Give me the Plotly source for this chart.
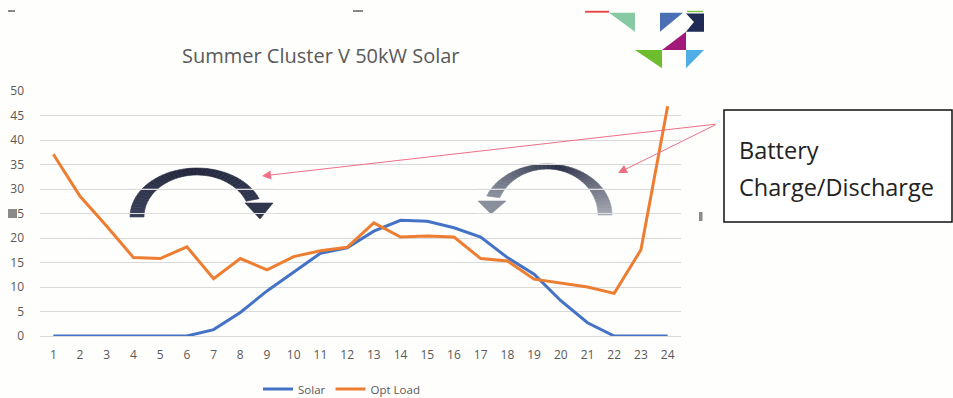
import numpy as np
import plotly.graph_objects as go

# ---- data -------------------------------------------------------------
hours = list(range(1, 25))
solar = [0, 0, 0, 0, 0, 0, 1.3, 4.8, 9.2, 13.0, 16.9, 18.0,
         21.4, 23.6, 23.4, 22.1, 20.2, 16.0, 12.6, 7.2, 2.7, 0, 0, 0]
opt_load = [37.1, 28.5, 22.4, 16.0, 15.8, 18.2, 11.7, 15.8, 13.5, 16.2, 17.4, 18.1,
            23.1, 20.2, 20.4, 20.2, 15.8, 15.3, 11.6, 10.8, 10.0, 8.7, 17.6, 46.9]
y_ticks = list(range(0, 51, 5))

W, H = 953, 398
L, R, T, B = 40, 272, 91, 62
PW, PH = W - L - R, H - T - B


def px(x):
    return (x - L) / PW


def py(y):
    return (H - B - y) / PH


def poly_path(pts):
    return "M " + " L ".join(f"{px(x):.5f},{py(y):.5f}" for x, y in pts) + " Z"


def mix(c1, c2, t):
    a = np.array([int(c1[i:i + 2], 16) for i in (1, 3, 5)], float)
    b = np.array([int(c2[i:i + 2], 16) for i in (1, 3, 5)], float)
    c = a + (b - a) * t
    return "#" + "".join(f"{int(round(v)):02x}" for v in c)


fig = go.Figure()
fig.add_trace(go.Scatter(x=hours, y=solar, name="Solar", mode="lines",
                         line=dict(color="#4472C4", width=3)))
fig.add_trace(go.Scatter(x=hours, y=opt_load, name="Opt Load", mode="lines",
                         line=dict(color="#ED7D31", width=3)))

shapes = []


def curved_arrow(cx, cy, rxo, ryo, rxi, ryi, t0, t1, head, colors, n=40):
    """Elliptical band from angle t0 to t1 (degrees) with a triangular head."""
    ts = np.linspace(np.radians(t0), np.radians(t1), n + 1)
    for k in range(n):
        a, b = ts[k], ts[k + 1]
        pts = [(cx + rxo * np.cos(a), cy - ryo * np.sin(a)),
               (cx + rxo * np.cos(b), cy - ryo * np.sin(b)),
               (cx + rxi * np.cos(b), cy - ryi * np.sin(b)),
               (cx + rxi * np.cos(a), cy - ryi * np.sin(a))]
        f = k / (n - 1)
        if f < 0.5:
            col = mix(colors[0], colors[1], f / 0.5)
        else:
            col = mix(colors[1], colors[2], (f - 0.5) / 0.5)
        shapes.append(dict(type="path", path=poly_path(pts), xref="paper", yref="paper",
                           fillcolor=col, line=dict(width=0.6, color=col), layer="below"))
    shapes.append(dict(type="path", path=poly_path(head), xref="paper", yref="paper",
                       fillcolor=colors[2], line=dict(width=0.6, color=colors[2]), layer="below"))


# charge arrow (left), discharge arrow (right)
curved_arrow(197, 217, 67, 49, 53, 42, 180, 22,
             [(245, 203), (273, 203), (260, 219)],
             ["#3a4058", "#22273d", "#30364e"])
curved_arrow(547, 215, 65, 51, 51, 46, 0, 158,
             [(478, 201), (506, 201), (491, 214)],
             ["#a3a7b1", "#2a3048", "#8a8f9c"])

# light grid strokes showing across the arrows
for v in (25, 30):
    yy = 336 - v * 4.9
    for x0, x1 in [(128, 275), (476, 614)]:
        shapes.append(dict(type="line", xref="paper", yref="paper",
                           x0=px(x0), x1=px(x1), y0=py(yy), y1=py(yy),
                           line=dict(color="rgba(230,230,235,0.55)", width=1)))

# callout box
shapes.append(dict(type="rect", xref="paper", yref="paper",
                   x0=px(724), x1=px(952), y0=py(110), y1=py(222),
                   line=dict(color="#111111", width=1.5), fillcolor="white"))

# logo triangles
logo = [
    ([(609, 12.7), (635, 12.7), (635, 31.7)], "#86c9a3"),
    ([(660, 12.7), (683, 12.7), (660, 31.7)], "#4a6fb5"),
    ([(686, 13.5), (704, 13.5), (704, 31.7), (686, 31.7), (694, 22)], "#1f2a55"),
    ([(662, 50), (686, 31.7), (686, 50)], "#a3197a"),
    ([(635, 50), (662, 50), (662, 68.3)], "#6dbe2e"),
    ([(686, 50), (704, 50), (686, 68.3)], "#4faee3"),
    ([(585, 10.8), (609, 10.8), (609, 12.7), (585, 12.7)], "#e84545"),
    ([(687, 10.8), (703, 10.8), (703, 12.2), (687, 12.2)], "#7dc242"),
]
for pts, col in logo:
    shapes.append(dict(type="path", path=poly_path(pts), xref="paper", yref="paper",
                       fillcolor=col, line=dict(width=0)))

# small stray marks
for x0, y0, x1, y1, col in [(8, 10, 15, 12, "#888888"), (353, 10, 363, 12, "#888888"),
                            (8, 209, 17, 218, "#8a8a8a"), (699, 212, 702.5, 221, "#8a8a8a")]:
    shapes.append(dict(type="rect", xref="paper", yref="paper",
                       x0=px(x0), x1=px(x1), y0=py(y0), y1=py(y1),
                       fillcolor=col, line=dict(width=0)))

annotations = [
    dict(text="Summer Cluster V 50kW Solar", xref="paper", yref="paper",
         x=px(321), y=py(55), xanchor="center", yanchor="middle", showarrow=False,
         font=dict(family="Open Sans", size=20, color="#595959")),
    dict(text="Battery", xref="paper", yref="paper", x=px(737), y=py(150),
         xanchor="left", yanchor="middle", showarrow=False,
         font=dict(family="Open Sans", size=23.5, color="#222222")),
    dict(text="Charge/Discharge", xref="paper", yref="paper", x=px(737), y=py(187),
         xanchor="left", yanchor="middle", showarrow=False,
         font=dict(family="Open Sans", size=23.5, color="#222222")),
]
# pointer lines from the callout
for tip in [(262, 176), (618, 173)]:
    annotations.append(dict(text="", xref="paper", yref="paper",
                            x=px(tip[0]), y=py(tip[1]),
                            ax=717 - tip[0], ay=124 - tip[1], axref="pixel", ayref="pixel",
                            showarrow=True, arrowhead=2, arrowsize=1.8, arrowwidth=1,
                            arrowcolor="#ef6f86", standoff=0))

fig.update_layout(
    width=W, height=H,
    margin=dict(l=L, r=R, t=T, b=B, pad=0, autoexpand=False),
    paper_bgcolor="#fefefc", plot_bgcolor="#fefefc",
    font=dict(family="Open Sans", color="#595959"),
    showlegend=True,
    legend=dict(orientation="h", xref="container", yref="container",
                x=258 / W, y=1 - 389 / H, xanchor="left", yanchor="middle",
                font=dict(size=11.5, color="#595959"), itemwidth=30,
                bgcolor="rgba(0,0,0,0)", tracegroupgap=0),
    xaxis=dict(range=[0.5, 24.5], tickmode="array", tickvals=hours,
               ticktext=[str(h) for h in hours], showgrid=False, zeroline=False,
               showline=False, ticks="", tickfont=dict(size=12, color="#595959"),
               ticklabelstandoff=10, automargin=False),
    yaxis=dict(range=[0, 50], tickmode="array", tickvals=y_ticks,
               showgrid=True, gridcolor="#d9d9d9", gridwidth=1,
               zeroline=True, zerolinecolor="#d9d9d9", zerolinewidth=1,
               showline=False, ticks="", tickfont=dict(size=12, color="#595959"),
               ticklabelstandoff=15, automargin=False),
    shapes=shapes, annotations=annotations,
)

fig.write_html("out.html")
